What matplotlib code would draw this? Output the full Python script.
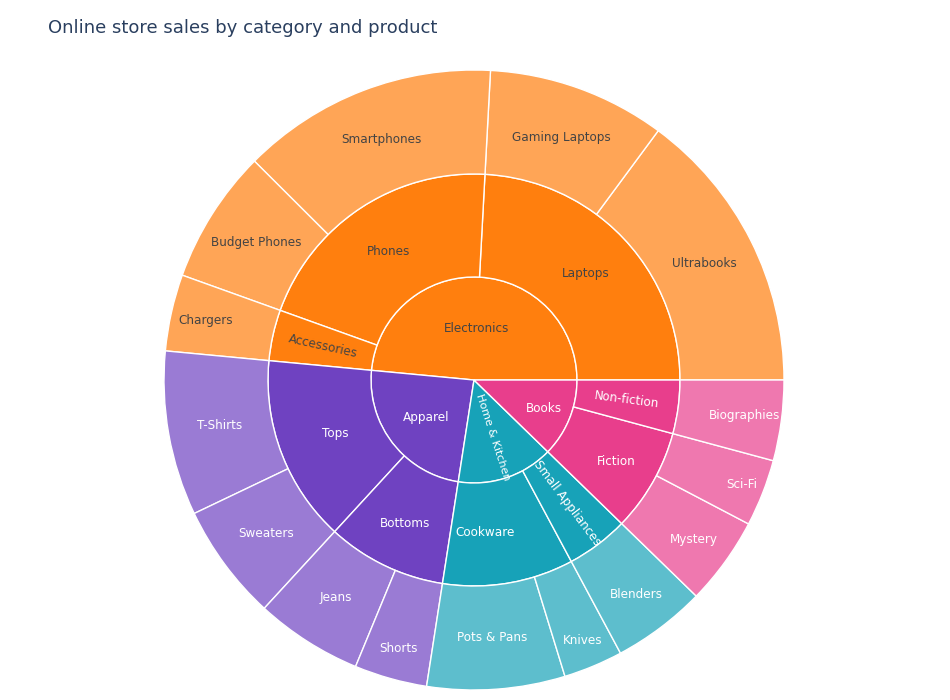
import matplotlib
matplotlib.use("Agg")
import matplotlib.pyplot as plt
import numpy as np

# ---------------- data ----------------
categories = ["Electronics", "Apparel", "Home & Kitchen", "Books"]
category_colors = ["#FF7F0E", "#6F42C1", "#17A2B8", "#E83E8C"]

subcategories = ["Laptops", "Phones", "Accessories", "Tops", "Bottoms",
                 "Cookware", "Small Appliances", "Fiction", "Non-fiction"]
sub_parent = ["Electronics", "Electronics", "Electronics", "Apparel", "Apparel",
              "Home & Kitchen", "Home & Kitchen", "Books", "Books"]

products = ["Ultrabooks", "Gaming Laptops", "Smartphones", "Budget Phones", "Chargers",
            "T-Shirts", "Sweaters", "Jeans", "Shorts",
            "Pots & Pans", "Knives", "Blenders",
            "Mystery", "Sci-Fi", "Biographies"]
product_parent = ["Laptops", "Laptops", "Phones", "Phones", "Accessories",
                  "Tops", "Tops", "Bottoms", "Bottoms",
                  "Cookware", "Cookware", "Small Appliances",
                  "Fiction", "Fiction", "Non-fiction"]
sales = [149, 93, 134, 70, 40,
         86, 61, 56, 38,
         72, 31, 49,
         46, 35, 42]

# ---------------- aggregation ----------------
sub_values = [sum(v for v, p in zip(sales, product_parent) if p == s) for s in subcategories]
cat_values = [sum(v for v, p in zip(sub_values, sub_parent) if p == c) for c in categories]
cat_color = dict(zip(categories, category_colors))
sub_color = [cat_color[p] for p in sub_parent]
sub_cat = dict(zip(subcategories, sub_parent))
prod_color = [cat_color[sub_cat[p]] for p in product_parent]


def lighten(hexcol, alpha=0.7):
    rgb = np.array(matplotlib.colors.to_rgb(hexcol))
    return tuple(rgb * alpha + (1 - alpha))


# ---------------- layout ----------------
W, H = 950, 700
CX, CY = 474, H - 380
R1, R2, R3 = 103, 206, 310

fig = plt.figure(figsize=(9.5, 7), dpi=100)
ax = fig.add_axes([0, 0, 1, 1])

wp = dict(edgecolor="white", linewidth=1)
w_in, _ = ax.pie(cat_values, radius=R1, center=(CX, CY), startangle=0,
                 counterclock=True, colors=category_colors,
                 wedgeprops=dict(width=R1, **wp))
w_mid, _ = ax.pie(sub_values, radius=R2, center=(CX, CY), startangle=0,
                  counterclock=True, colors=sub_color,
                  wedgeprops=dict(width=R2 - R1, **wp))
w_out, _ = ax.pie(sales, radius=R3, center=(CX, CY), startangle=0,
                  counterclock=True, colors=[lighten(c) for c in prod_color],
                  wedgeprops=dict(width=R3 - R2, **wp))

ax.set_xlim(0, W)
ax.set_ylim(0, H)
ax.set_aspect("equal")
ax.axis("off")

# label placement tweaks (radius in px, optional angle, optional size)
radial = {"Accessories", "Home & Kitchen", "Small Appliances", "Non-fiction"}
r_override = {"Electronics": 52, "Apparel": 61, "Home & Kitchen": 60, "Books": 75,
              "Fiction": 164, "Tops": 149, "Bottoms": 159, "Cookware": 153,
              "Chargers": 275, "Shorts": 279, "Knives": 282, "Blenders": 269,
              "Mystery": 272, "Sci-Fi": 287, "Biographies": 273}
a_override = {"Cookware": 274, "Home & Kitchen": 288}
fs_override = {"Home & Kitchen": 8.0}

dark_fill = {"#FF7F0E"}
FS = 8.64


def label(wedges, names, colors_base, r_in, r_out):
    for w, name, base in zip(wedges, names, colors_base):
        a = (w.theta1 + w.theta2) / 2.0
        a = a_override.get(name, a)
        r = r_override.get(name, (r_in + r_out) / 2.0)
        x = CX + r * np.cos(np.radians(a))
        y = CY + r * np.sin(np.radians(a))
        rot = 0
        if name in radial:
            if 90 < a < 270:
                rot = a - 180
            elif a > 270:
                rot = a - 360
            else:
                rot = a
        col = "#444444" if base in dark_fill else "white"
        ax.text(x, y, name, ha="center", va="center", rotation=rot,
                rotation_mode="anchor", fontsize=fs_override.get(name, FS),
                color=col, family="DejaVu Sans")


label(w_in, categories, category_colors, 0, R1)
label(w_mid, subcategories, sub_color, R1, R2)
label(w_out, products, prod_color, R2, R3)

fig.text(48 / W, 1 - 28 / H, "Online store sales by category and product",
         fontsize=13.0, color="#2a3f5f", ha="left", va="center",
         family="DejaVu Sans")

fig.savefig("out.png", dpi=100, facecolor="white")
